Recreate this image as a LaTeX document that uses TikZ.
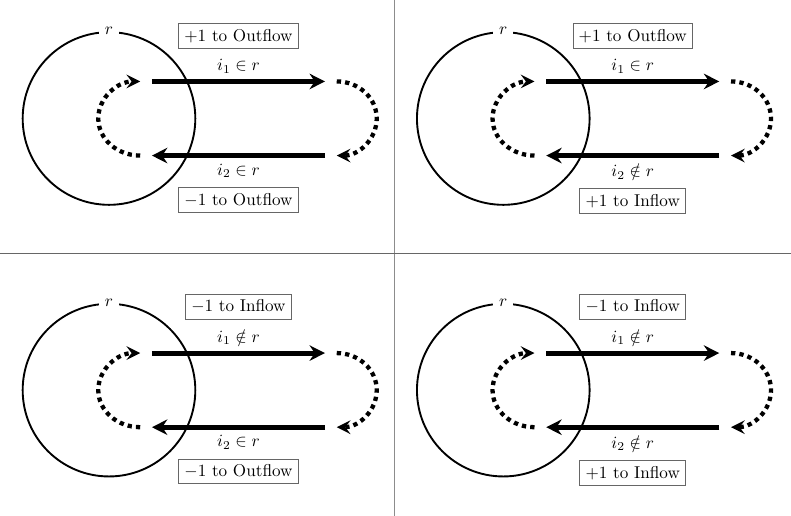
\documentclass[tikz,border=0pt]{standalone}
\usetikzlibrary{arrows.meta,positioning,calc}

\begin{document}
\begin{tikzpicture}[
    flow/.style={line width=3pt, -{Stealth[length=9pt,width=9pt,inset=3pt]}},
    backloop/.style={line width=2.5pt, dash pattern=on 2.5pt off 2.4pt,
                     -{Stealth[length=8pt,width=8pt,inset=3pt]}},
    tag/.style={draw=black!60, line width=0.5pt},
    rim/.style={line width=1.1pt}]
    \useasboundingbox (0,0) rectangle (16.22,10.58);
    \draw[black!45, line width=0.6pt] (8.09,0) -- (8.09,10.58);
    \draw[black!60, line width=0.6pt] (0,5.39) -- (16.22,5.39);
    \foreach \n/\x/\y/\ia/\ib/\ta/\tb in {
        1/2.235/8.15/\in/\in/$+1$ to Outflow/$-1$ to Outflow,
        2/10.32/8.15/\in/\notin/$+1$ to Outflow/$+1$ to Inflow,
        3/2.235/2.58/\notin/\in/$-1$ to Inflow/$-1$ to Outflow,
        4/10.32/2.58/\notin/\notin/$-1$ to Inflow/$+1$ to Inflow}
    {
        \coordinate (c\n) at (\x,\y);
        \draw[rim] (c\n) circle (1.77);
        \node[fill=white] (r\n) at ($(c\n)+(0,1.79)$) {$r$};
        \coordinate (a\n) at ($(c\n)+(0.88,0.76)$);
        \coordinate (b\n) at ($(c\n)+(4.43,0.76)$);
        \coordinate (d\n) at ($(c\n)+(4.43,-0.76)$);
        \coordinate (e\n) at ($(c\n)+(0.88,-0.76)$);
        \draw[flow] (a\n) -- node[above] (l\n) {$i_1 \ia r$} (b\n);
        \draw[flow] (d\n) -- node[below] (m\n) {$i_2 \ib r$} (e\n);
        \node[tag, above=1pt of l\n] (s\n) {\ta};
        \node[tag, below=0.5pt of m\n] (t\n) {\tb};
        % dotted returns at both ends
        \coordinate (f\n) at ($(c\n)+(4.67,0.76)$);
        \coordinate (g\n) at ($(c\n)+(0.64,-0.76)$);
        \draw[backloop] (f\n) arc[start angle=90, end angle=-90, x radius=0.82, y radius=0.76];
        \draw[backloop] (g\n) arc[start angle=270, end angle=90, x radius=0.86, y radius=0.76];
    }
\end{tikzpicture}
\end{document}
